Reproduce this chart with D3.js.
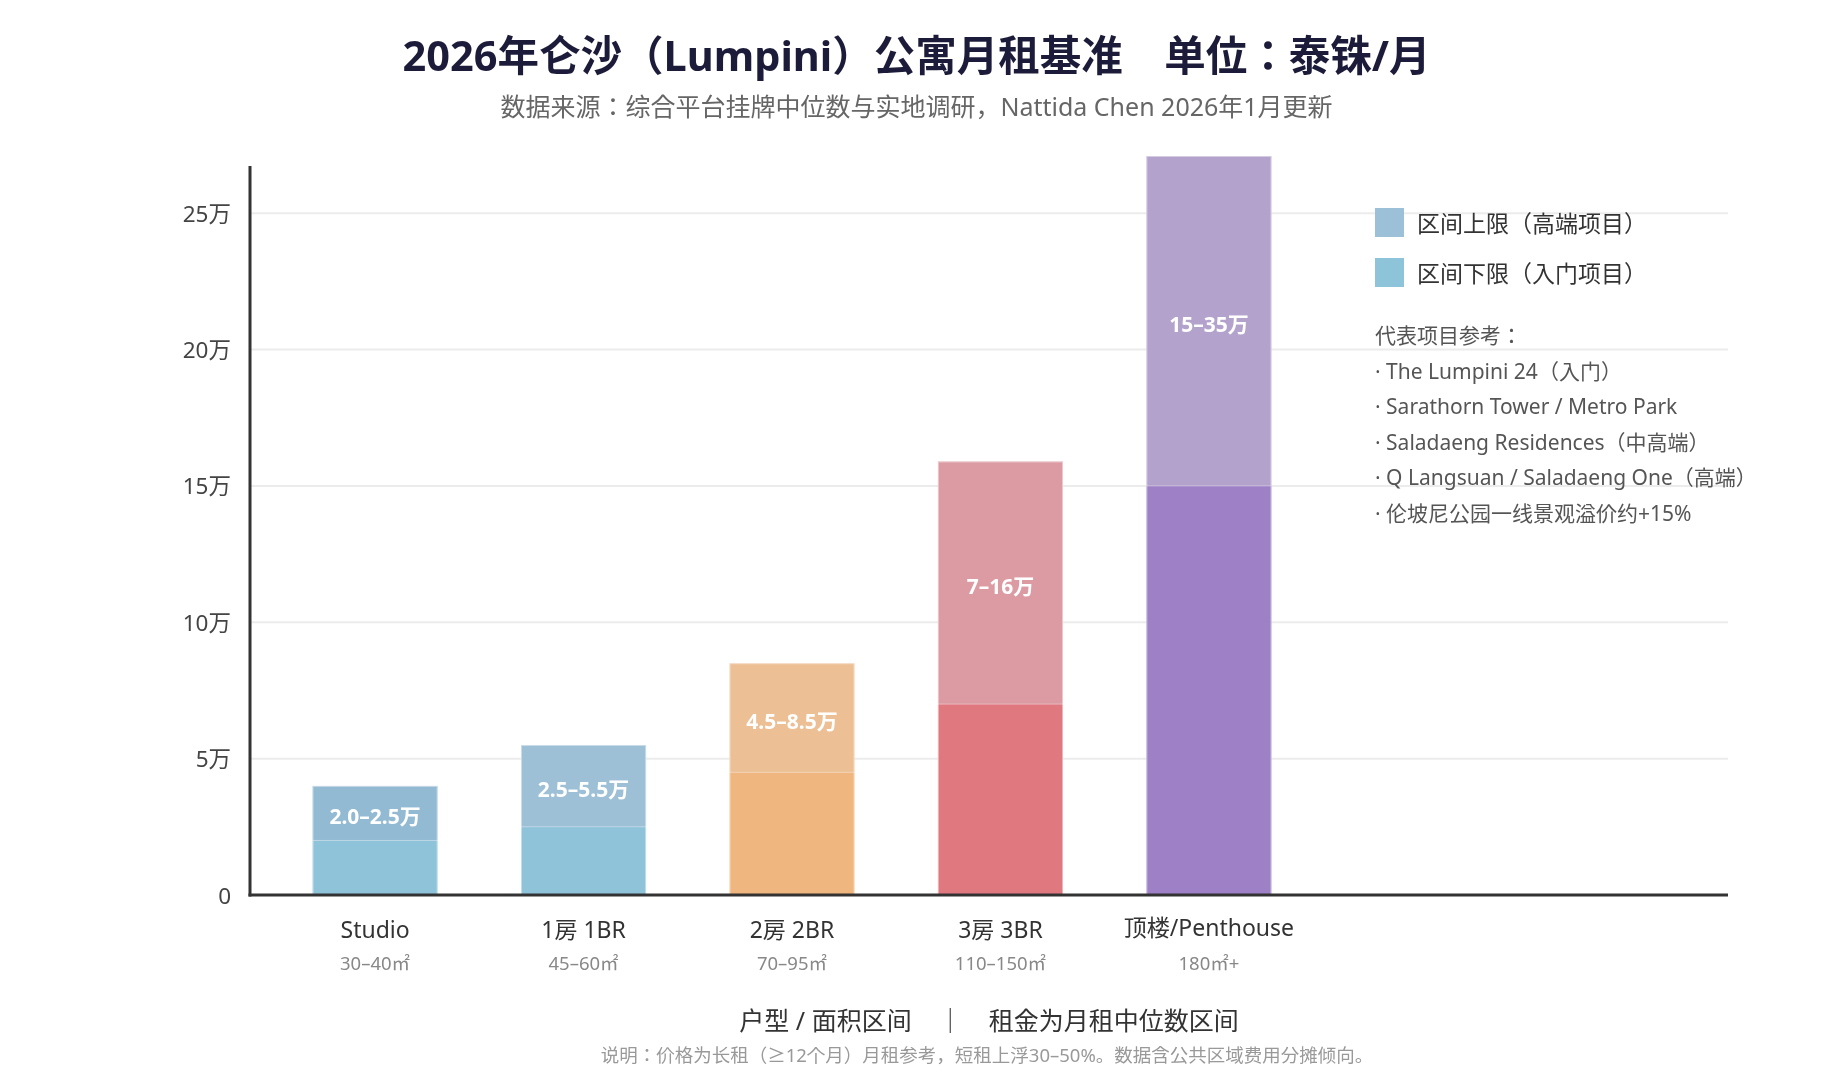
<!DOCTYPE html>
<html>
<head>
<meta charset="utf-8">
<script src="https://cdn.jsdelivr.net/npm/d3@7"></script>
<style>
  body { margin: 0; background: #fff; }
  svg text { font-family: "Noto Sans", "Noto Sans CJK JP", sans-serif; }
</style>
</head>
<body>
<div id="chart"></div>
<script>
// categories and ranges (万泰铢)
var categories = ['Studio', '1房 1BR', '2房 2BR', '3房 3BR', '顶楼/Penthouse'];
var areas = ['30–40㎡', '45–60㎡', '70–95㎡', '110–150㎡', '180㎡+'];
var lowValues = [2.0, 2.5, 4.5, 7, 15];
var highValues = [4.0, 5.5, 8.5, 15.9, 35];
var rangeLabels = ['2.0–2.5万', '2.5–5.5万', '4.5–8.5万', '7–16万', '15–35万'];
var lowColors = ['#8ec3da', '#8ec3da', '#f0b67f', '#e07880', '#9e80c7'];
var highColors = ['#93bad3', '#9dc0d7', '#ecbf95', '#dc9ba3', '#b3a2cb'];
var yTicks = [0, 5, 10, 15, 20, 25];
var legendItems = ['区间上限（高端项目）', '区间下限（入门项目）'];
var notes = ['代表项目参考：', '· The Lumpini 24（入门）', '· Sarathorn Tower / Metro Park',
    '· Saladaeng Residences（中高端）', '· Q Langsuan / Saladaeng One（高端）', '· 伦坡尼公园一线景观溢价约+15%'];

var W = 1833, H = 1083;
var svg = d3.select('#chart').append('svg')
    .attr('width', W).attr('height', H);

var x = d3.scaleBand()
    .domain(categories)
    .range([250, 1334])
    .paddingInner(0.4)
    .paddingOuter(0.3);

var y = d3.scaleLinear()
    .domain([0, 27.1])
    .range([895, 156])
    .clamp(true);

// title
svg.append('text')
    .attr('x', W / 2).attr('y', 55)
    .attr('text-anchor', 'middle').attr('dominant-baseline', 'central')
    .attr('font-size', 41.5).attr('font-weight', 700).attr('fill', '#1c1c3a')
    .text('2026年仑沙（Lumpini）公寓月租基准\u3000单位：泰铢/月');
svg.append('text')
    .attr('x', W / 2).attr('y', 106)
    .attr('text-anchor', 'middle').attr('dominant-baseline', 'central')
    .attr('font-size', 25).attr('fill', '#666')
    .text('数据来源：综合平台挂牌中位数与实地调研，Nattida Chen 2026年1月更新');

//grid lines
svg.append('g').selectAll('line')
    .data(yTicks.filter(function (d) { return d > 0; }))
    .enter().append('line')
    .attr('x1', 250).attr('x2', 1728)
    .attr('y1', function (d) { return y(d); })
    .attr('y2', function (d) { return y(d); })
    .attr('stroke', '#ececec').attr('stroke-width', 2);

// y tick labels
svg.append('g').selectAll('text')
    .data(yTicks)
    .enter().append('text')
    .attr('x', 231)
    .attr('y', function (d) { return y(d); })
    .attr('text-anchor', 'end').attr('dominant-baseline', 'central')
    .attr('font-size', 22.5).attr('fill', '#444')
    .text(function (d) { return d === 0 ? '0' : d + '万'; });

// bars: lower part then upper part
var barG = svg.append('g').style('isolation', 'isolate');
var bars = barG.selectAll('g.bar')
    .data(categories)
    .enter().append('g').attr('class', 'bar');

bars.append('rect')
    .attr('x', function (d) { return x(d); })
    .attr('width', x.bandwidth())
    .attr('y', function (d, i) { return y(lowValues[i]); })
    .attr('height', function (d, i) { return y(0) - y(lowValues[i]); })
    .attr('fill', function (d, i) { return lowColors[i]; })
    .style('mix-blend-mode', 'multiply');

bars.append('rect')
    .attr('x', function (d) { return x(d); })
    .attr('width', x.bandwidth())
    .attr('y', function (d, i) { return y(highValues[i]); })
    .attr('height', function (d, i) { return y(lowValues[i]) - y(highValues[i]); })
    .attr('fill', function (d, i) { return highColors[i]; })
    .style('mix-blend-mode', 'multiply');

// thin light edges
bars.append('rect')
    .attr('x', function (d) { return x(d) + 0.5; })
    .attr('width', x.bandwidth() - 1)
    .attr('y', function (d, i) { return y(highValues[i]) + 0.5; })
    .attr('height', function (d, i) { return y(0) - y(highValues[i]) - 1; })
    .attr('fill', 'none').attr('stroke', '#fff').attr('stroke-opacity', 0.45);

bars.append('line')
    .attr('x1', function (d) { return x(d); })
    .attr('x2', function (d) { return x(d) + x.bandwidth(); })
    .attr('y1', function (d, i) { return y(lowValues[i]); })
    .attr('y2', function (d, i) { return y(lowValues[i]); })
    .attr('stroke', '#fff').attr('stroke-opacity', 0.35);

// range labels in the middle of the upper part
bars.append('text')
    .attr('x', function (d) { return x(d) + x.bandwidth() / 2; })
    .attr('y', function (d, i) { return (y(lowValues[i]) + y(highValues[i])) / 2 + 3; })
    .attr('text-anchor', 'middle').attr('dominant-baseline', 'central')
    .attr('font-size', 21).attr('font-weight', 700).attr('fill', '#fff')
    .text(function (d, i) { return rangeLabels[i]; });

// axes lines
svg.append('line')
    .attr('x1', 250).attr('x2', 250).attr('y1', 166).attr('y2', y(0) + 1.5)
    .attr('stroke', '#333').attr('stroke-width', 3);
svg.append('line')
    .attr('x1', 248.5).attr('x2', 1728).attr('y1', y(0)).attr('y2', y(0))
    .attr('stroke', '#333').attr('stroke-width', 3);

// category labels
svg.append('g').selectAll('text')
    .data(categories)
    .enter().append('text')
    .attr('x', function (d) { return x(d) + x.bandwidth() / 2; })
    .attr('y', function (d, i) { return i === 4 ? 927 : 929; })
    .attr('text-anchor', 'middle').attr('dominant-baseline', 'central')
    .attr('font-size', 23).attr('fill', '#333')
    .text(function (d) { return d; });
svg.append('g').selectAll('text')
    .data(areas)
    .enter().append('text')
    .attr('x', function (d, i) { return x(categories[i]) + x.bandwidth() / 2; })
    .attr('y', 962)
    .attr('text-anchor', 'middle').attr('dominant-baseline', 'central')
    .attr('font-size', 18.5).attr('fill', '#888')
    .text(function (d) { return d; });

// axis title + footnote
svg.append('text')
    .attr('x', 989).attr('y', 1020)
    .attr('text-anchor', 'middle').attr('dominant-baseline', 'central')
    .attr('font-size', 25).attr('fill', '#333')
    .attr('xml:space', 'preserve')
    .text('户型 / 面积区间    ｜    租金为月租中位数区间');
svg.append('text')
    .attr('x', 987).attr('y', 1054)
    .attr('text-anchor', 'middle').attr('dominant-baseline', 'central')
    .attr('font-size', 18.5).attr('fill', '#999')
    .text('说明：价格为长租（≥12个月）月租参考，短租上浮30–50%。数据含公共区域费用分摊倾向。');

// legend
var legend = svg.append('g');
legend.selectAll('rect')
    .data(legendItems)
    .enter().append('rect')
    .attr('x', 1375)
    .attr('y', function (d, i) { return 208 + i * 50; })
    .attr('width', 29).attr('height', 29)
    .attr('fill', function (d, i) { return i === 0 ? '#9bc0d8' : '#8ec4da'; });
legend.selectAll('text')
    .data(legendItems)
    .enter().append('text')
    .attr('x', 1417)
    .attr('y', function (d, i) { return 223 + i * 50; })
    .attr('dominant-baseline', 'central')
    .attr('font-size', 23).attr('fill', '#333')
    .text(function (d) { return d; });

svg.append('g').selectAll('text')
    .data(notes)
    .enter().append('text')
    .attr('x', 1375)
    .attr('y', function (d, i) { return i === 0 ? 335 : 370.6 + (i - 1) * 35.6; })
    .attr('dominant-baseline', 'central')
    .attr('font-size', 21).attr('fill', '#555')
    .text(function (d) { return d; });
</script>
</body>
</html>
